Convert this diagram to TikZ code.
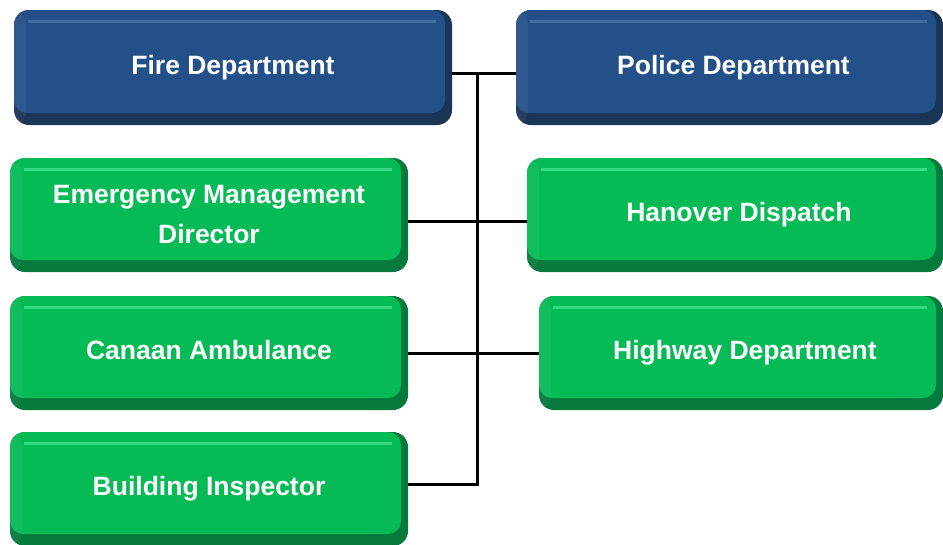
\documentclass[tikz,border=0pt]{standalone}
\usepackage{fontspec}
\setmainfont{Liberation Sans}
\definecolor{bmain}{HTML}{24508A}
\definecolor{bdark}{HTML}{1B3557}
\definecolor{blight}{HTML}{4C77AC}
\definecolor{gmain}{HTML}{06BA55}
\definecolor{gdark}{HTML}{067A3C}
\definecolor{glight}{HTML}{45E591}
\tikzset{
  box/.style n args={3}{rectangle, rounded corners=15pt, fill=#2, text=white,
    font=\fontsize{26.5}{40}\selectfont\bfseries, align=center, inner sep=0pt,
    path picture={
      \fill[#1, rounded corners=13pt] (path picture bounding box.north west) rectangle ([xshift=-7pt,yshift=12pt]path picture bounding box.south east);
      \draw[#3, line width=3pt, opacity=0.75] ([xshift=14pt,yshift=-11pt]path picture bounding box.north west) -- ([xshift=-16pt,yshift=-11pt]path picture bounding box.north east);
      \fill[white, opacity=0.05] (path picture bounding box.north west) rectangle ([xshift=12pt]path picture bounding box.south west);
    }},
  bluebox/.style={box={bmain}{bdark}{blight}},
  greenbox/.style={box={gmain}{gdark}{glight}},
  conn/.style={draw=black, line width=3pt}
}
\begin{document}
\begin{tikzpicture}[x=1pt,y=-1pt]
\useasboundingbox (0,0) rectangle (943,544);
\node[bluebox, minimum width=438pt, minimum height=115pt] (fire) at (233,67.5) {Fire Department};
\node[bluebox, minimum width=427pt, minimum height=115pt] (police) at (729.5,67.5) {\hspace*{8pt}Police Department};
\node[greenbox, minimum width=398pt, minimum height=114pt] (emd) at (209,215) {Emergency Management\\Director};
\node[greenbox, minimum width=416pt, minimum height=114pt] (hanover) at (735,215) {\hspace*{8pt}Hanover Dispatch};
\node[greenbox, minimum width=398pt, minimum height=114pt] (canaan) at (209,353) {Canaan Ambulance\vphantom{y}};
\node[greenbox, minimum width=404pt, minimum height=114pt] (highway) at (741,353) {\hspace*{8pt}Highway Department};
\node[greenbox, minimum width=398pt, minimum height=114pt] (building) at (209,489) {Building Inspector};
\coordinate (trunktop) at (477.5,73);
\draw[conn] ([yshift=-5.5pt]fire.east) -- ([yshift=-5.5pt]police.west);
\draw[conn] ([yshift=-6pt]emd.east) -- ([yshift=-6pt]hanover.west);
\draw[conn] (canaan.east) -- (highway.west);
\draw[conn] ([yshift=5pt]building.east) -| (trunktop);
\end{tikzpicture}
\end{document}
